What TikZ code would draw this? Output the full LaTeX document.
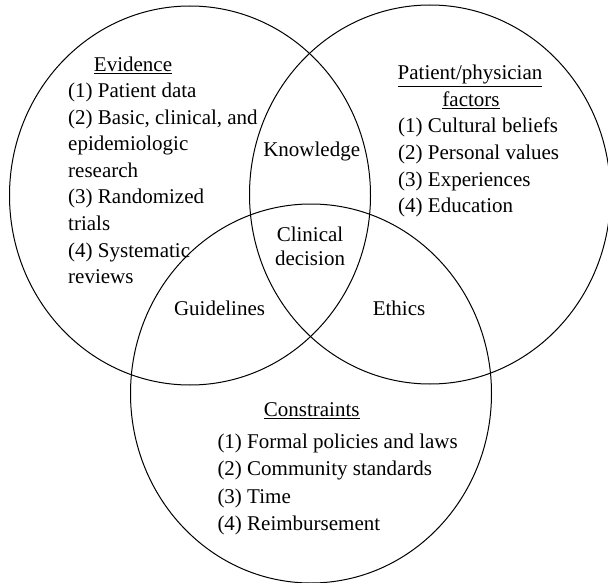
\documentclass[tikz,border=0pt]{standalone}
\usepackage{fontspec}
\setmainfont{Liberation Serif}
\usetikzlibrary{shapes.geometric}
\begin{document}
\begin{tikzpicture}[x=1pt, y=-1pt,
        set/.style={ellipse, draw, line width=1pt, minimum width=361pt, minimum height=379pt, inner sep=0pt},
        txt/.style={font=\fontsize{21}{26}\selectfont, inner sep=0pt}]
        \useasboundingbox (0,0) rectangle (608,583);

        % Circles
        \node[set] at (190, 195.5)  (ev) {};
        \node[set] at (430, 194.5)  (pp) {};
        \node[set] at (311, 393.5)  (co) {};

        % Evidence
        \node[txt, anchor=base] at (133, 71.7)  (evt) {\underline{Evidence}};
        \node[txt, anchor=base west] at (68, 98)  (ev1)  {(1) Patient data};
        \node[txt, anchor=base west] at (68, 124.5)  (ev2)  {(2) Basic, clinical, and};
        \node[txt, anchor=base west] at (68, 151)  (ev2b)  {epidemiologic};
        \node[txt, anchor=base west] at (68, 177.5)  (ev2c)  {research};
        \node[txt, anchor=base west] at (68, 204)  (ev3)  {(3) Randomized};
        \node[txt, anchor=base west] at (68, 230.5)  (ev3b)  {trials};
        \node[txt, anchor=base west] at (68, 257)  (ev4)  {(4) Systematic};
        \node[txt, anchor=base west] at (68, 283.5)  (ev4b)  {reviews};

        % Patient/physician factors
        \node[txt, anchor=base] at (470, 80)  (ppt)  {\underline{Patient/physician}};
        \node[txt, anchor=base] at (471, 106.5)  (ppt2)  {\underline{factors}};
        \node[txt, anchor=base west] at (398, 133)  (pp1)  {(1) Cultural beliefs};
        \node[txt, anchor=base west] at (398, 159.5)  (pp2)  {(2) Personal values};
        \node[txt, anchor=base west] at (398, 186)  (pp3)  {(3) Experiences};
        \node[txt, anchor=base west] at (398, 212.5)  (pp4)  {(4) Education};

        % Overlaps
        \node[txt, anchor=base] at (311.7, 157)  (kn)  {Knowledge};
        \node[txt, anchor=base] at (310, 241.7)  (cd)  {Clinical};
        \node[txt, anchor=base] at (310, 265)  (cd2)  {decision};
        \node[txt, anchor=base] at (219.5, 315)  (gl)  {Guidelines};
        \node[txt, anchor=base] at (399, 315)  (et)  {Ethics};

        % Constraints
        \node[txt, anchor=base] at (311.7, 416.7)  (cot)  {\underline{Constraints}};
        \node[txt, anchor=base west] at (217.3, 448)  (co1)  {(1) Formal policies and laws};
        \node[txt, anchor=base west] at (217.3, 475.5)  (co2)  {(2) Community standards};
        \node[txt, anchor=base west] at (217.3, 503)  (co3)  {(3) Time};
        \node[txt, anchor=base west] at (217.3, 530.5)  (co4)  {(4) Reimbursement};
    \end{tikzpicture}
\end{document}
